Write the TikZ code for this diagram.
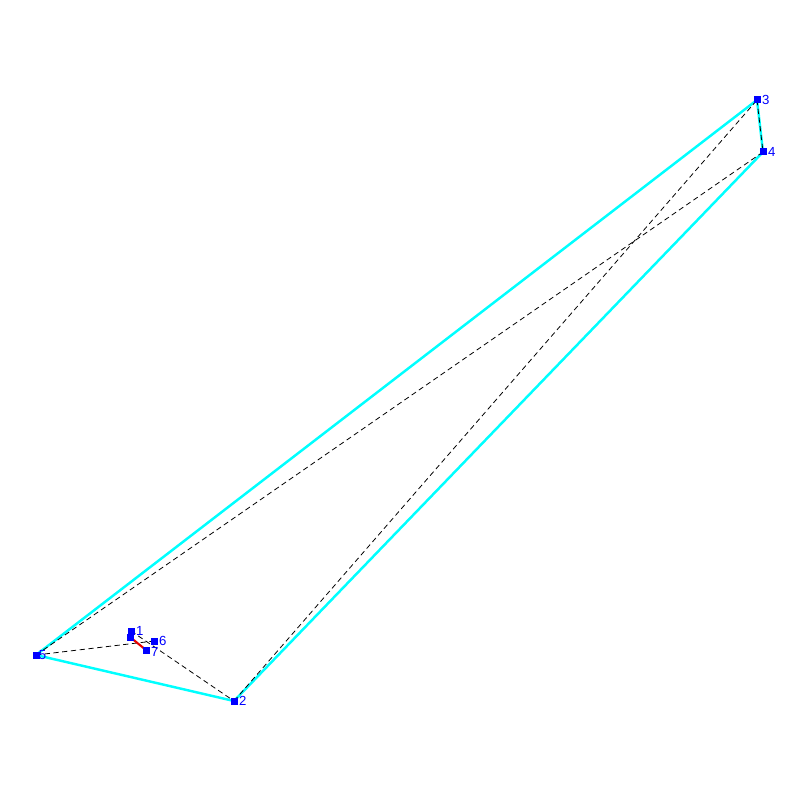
\documentclass[tikz,border=0pt]{standalone}
\usepackage{fontspec}
\setmainfont{Liberation Sans}
\usetikzlibrary{positioning, backgrounds}
\definecolor{hullCyan}{RGB}{0, 255, 255}
\definecolor{ptBlue}{RGB}{0, 0, 255}
\definecolor{cutRed}{RGB}{230, 0, 0}

\begin{document}
\begin{tikzpicture}[x=0.02cm, y=-0.02cm,
  pt/.style={rectangle, fill=ptBlue, inner sep=0pt, minimum size=0.14cm},
  num/.style={font=\fontsize{7.5}{7.5}\selectfont, text=ptBlue, inner sep=0.5pt},
  hull/.style={line width=1.4pt, draw=hullCyan},
  edge/.style={dash pattern=on 3pt off 2pt, line width=0.45pt, draw=black},
  cut/.style={line width=1.2pt, draw=cutRed},
]
\useasboundingbox (0,0) rectangle (800,800);
% points
\node[pt, label={[num]0:1}] (p1) at (131,631) {};
\node[pt]                   (p0) at (130,637) {};
\node[pt, label={[num]0:2}] (p2) at (234,701) {};
\node[pt, label={[num]0:3}] (p3) at (757,100) {};
\node[pt, label={[num]0:4}] (p4) at (763,152) {};
\node[pt, label={[num, xshift=-1.2pt]0:5}] (p5) at (36,655) {};
\node[pt, label={[num]0:6}] (p6) at (154,641) {};
\node[pt, label={[num, yshift=-1pt]0:7}] (p7) at (146,650) {};
\begin{scope}[on background layer]
\fill[white] (0,0) rectangle (800,800);
% hull
\draw[hull] (p5.center) -- (p3.center) -- (p4.center) -- (p2.center) -- cycle;
% triangulation
\draw[edge] (p5.center) -- (p4.center);
\draw[edge] (p3.center) -- (p4.center);
\draw[edge] (p2.center) -- (p3.center);
\draw[edge] (p5.center) -- (p6.center);
\draw[edge] (p1.center) -- (p2.center);
\draw[cut] (p0.center) -- (p7.center);
\end{scope}
\end{tikzpicture}
\end{document}
